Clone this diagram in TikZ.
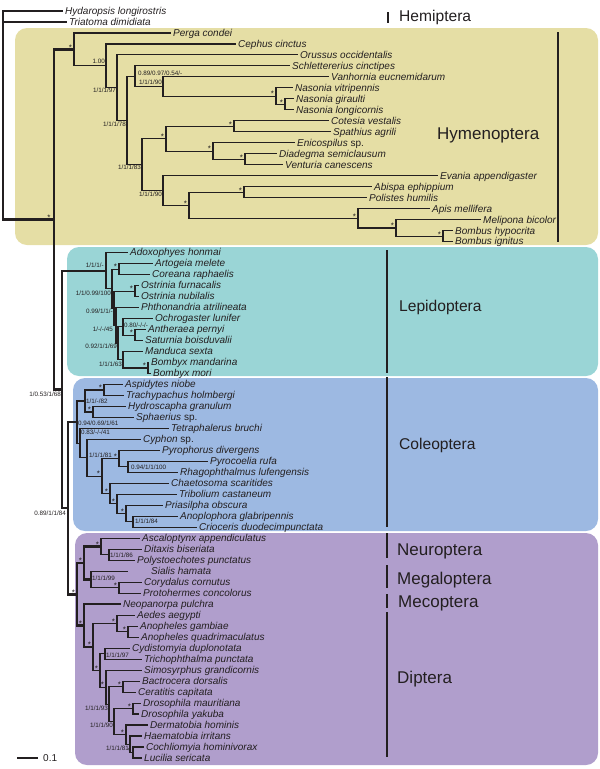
\documentclass[tikz,border=0pt]{standalone}
\usepackage{fontspec}
\setmainfont{Liberation Sans}
\definecolor{lc}{RGB}{35,31,32}
\definecolor{hymc}{RGB}{229,222,165}
\definecolor{lepc}{RGB}{154,213,214}
\definecolor{colc}{RGB}{157,185,226}
\definecolor{purc}{RGB}{176,158,204}
\newcommand\mytip[4]{\coordinate (#1) at ({#2-2},{11+10.985*#3});
  \node[taxon] (#1-l) at ([xshift=2pt,yshift=-3.3pt]#1) {#4};}
\newcommand\mystar[1]{\node[supstar] (st-#1) at ([xshift=-3.5pt,yshift=-0.8pt]#1) {*};}
\newcommand\supE[4]{\node[sup,anchor=base east] (#1) at (#2,{#3+2.3}) {#4};}
\newcommand\supW[4]{\node[sup,anchor=base west] (#1) at (#2,{#3+2.3}) {#4};}
\tikzset{
  thn/.style={draw=lc, line width=1.1pt},
  thk/.style={draw=lc, line width=2.4pt},
  taxon/.style={anchor=base west, inner sep=0pt, text=lc, font=\fontsize{10}{12}\selectfont\itshape},
  sup/.style={inner sep=0pt, text=lc, font=\fontsize{6.3}{7}\selectfont},
  supstar/.style={anchor=base, inner sep=0pt, text=lc, font=\fontsize{8}{9}\selectfont},
  clade/.style={anchor=base west, inner sep=0pt, text=lc, font=\fontsize{17}{20}\selectfont},
  cladesm/.style={anchor=base west, inner sep=0pt, text=lc, font=\fontsize{15.6}{18}\selectfont},
  cladebar/.style={draw=lc, line width=2pt},
  cladebox/.style={rounded corners=12pt},
}
\begin{document}
\begin{tikzpicture}[x=1pt,y=-1pt]
\useasboundingbox (0,0) rectangle (600,769);
% background boxes
\fill[hymc, cladebox] (15,28) rectangle (598,245);
\fill[lepc, cladebox] (67,247) rectangle (598,376);
\fill[colc, cladebox] (73,378) rectangle (598,531);
\fill[purc, cladebox] (75,533) rectangle (598,765);

% tips
\mytip{hyd}{65}{0}{Hydaropsis longirostris}
\mytip{tri}{69}{1}{Triatoma dimidiata}
\mytip{per}{173}{2}{Perga condei}
\mytip{cep}{238}{3}{Cephus cinctus}
\mytip{oru}{300}{4}{Orussus occidentalis}
\mytip{sch}{292}{5}{Schlettererius cinctipes}
\mytip{van}{331}{6}{Vanhornia eucnemidarum}
\mytip{nvi}{295}{7}{Nasonia vitripennis}
\mytip{ngi}{296}{8}{Nasonia giraulti}
\mytip{nlo}{296}{9}{Nasonia longicornis}
\mytip{cot}{331}{10}{Cotesia vestalis}
\mytip{spa}{333}{11}{Spathius agrili}
\mytip{eni}{297}{12}{Enicospilus \upshape sp.}
\mytip{dia}{279}{13}{Diadegma semiclausum}
\mytip{ven}{285}{14}{Venturia canescens}
\mytip{eva}{440}{15}{Evania appendigaster}
\mytip{abi}{374}{16}{Abispa ephippium}
\mytip{pol}{369}{17}{Polistes humilis}
\mytip{api}{432}{18}{Apis mellifera}
\mytip{mel}{483}{19}{Melipona bicolor}
\mytip{bhy}{455}{20}{Bombus hypocrita}
\mytip{big}{455}{21}{Bombus ignitus}
\mytip{ado}{130}{22}{Adoxophyes honmai}
\mytip{art}{155}{23}{Artogeia melete}
\mytip{cor}{152}{24}{Coreana raphaelis}
\mytip{ofu}{141}{25}{Ostrinia furnacalis}
\mytip{onu}{141}{26}{Ostrinia nubilalis}
\mytip{pht}{141}{27}{Phthonandria atrilineata}
\mytip{och}{155}{28}{Ochrogaster lunifer}
\mytip{ant}{148}{29}{Antheraea pernyi}
\mytip{sat}{145}{30}{Saturnia boisduvalii}
\mytip{man}{145}{31}{Manduca sexta}
\mytip{bma}{151}{32}{Bombyx mandarina}
\mytip{bmo}{153}{33}{Bombyx mori}
\mytip{asp}{125}{34}{Aspidytes niobe}
\mytip{tra}{126}{35}{Trachypachus holmbergi}
\mytip{hyr}{128}{36}{Hydroscapha granulum}
\mytip{sph}{136}{37}{Sphaerius \upshape sp.}
\mytip{tet}{171}{38}{Tetraphalerus bruchi}
\mytip{cyp}{143}{39}{Cyphon \upshape sp.}
\mytip{pyr}{162}{40}{Pyrophorus divergens}
\mytip{pyc}{210}{41}{Pyrocoelia rufa}
\mytip{rha}{180}{42}{Rhagophthalmus lufengensis}
\mytip{cha}{171}{43}{Chaetosoma scaritides}
\mytip{trb}{179}{44}{Tribolium castaneum}
\mytip{pri}{165}{45}{Priasilpha obscura}
\mytip{ano}{180}{46}{Anoplophora glabripennis}
\mytip{cri}{199}{47}{Crioceris duodecimpunctata}
\mytip{asc}{142}{48}{Ascaloptynx appendiculatus}
\mytip{dit}{144}{49}{Ditaxis biseriata}
\mytip{pst}{137}{50}{Polystoechotes punctatus}
\coordinate (sia) at (128,{11+10.985*51});
\node[taxon] (sia-l) at ([xshift=23pt,yshift=-3.3pt]sia) {Sialis hamata};
\mytip{cry}{144}{52}{Corydalus cornutus}
\mytip{pro}{143}{53}{Protohermes concolorus}
\mytip{neo}{123}{54}{Neopanorpa pulchra}
\mytip{aed}{137}{55}{Aedes aegypti}
\mytip{agm}{140}{56}{Anopheles gambiae}
\mytip{aqu}{141}{57}{Anopheles quadrimaculatus}
\mytip{cyd}{132}{58}{Cydistomyia duplonotata}
\mytip{trc}{144}{59}{Trichophthalma punctata}
\mytip{sim}{144}{60}{Simosyrphus grandicornis}
\mytip{bac}{142}{61}{Bactrocera dorsalis}
\mytip{cer}{138}{62}{Ceratitis capitata}
\mytip{dma}{143}{63}{Drosophila mauritiana}
\mytip{dya}{141}{64}{Drosophila yakuba}
\mytip{der}{150}{65}{Dermatobia hominis}
\mytip{hae}{144}{66}{Haematobia irritans}
\mytip{coc}{146}{67}{Cochliomyia hominivorax}
\mytip{luc}{144}{68}{Lucilia sericata}

% internal nodes
\coordinate (R) at (3,115);
\coordinate (Holo) at (54,219.4);
\coordinate (H0) at (74,49.4);
\coordinate (H1) at (106,65.8);
\coordinate (H2) at (117,87.65);
\coordinate (H3) at (127,120.4);
\coordinate (H4) at (135,76.2);
\coordinate (H5) at (163,86.5);
\coordinate (N) at (276,96.15);
\coordinate (N2) at (285,104.4);
\coordinate (H6) at (142,164.6);
\coordinate (I0) at (166,138.7);
\coordinate (Br) at (234,126.35);
\coordinate (Ich) at (213,151.05);
\coordinate (DV) at (245,159.3);
\coordinate (H7) at (163,190.5);
\coordinate (H8) at (189,205.25);
\coordinate (Ves) at (244,192.2);
\coordinate (A1) at (358,218.3);
\coordinate (A2) at (396,227.95);
\coordinate (Bom) at (443,236.2);
\coordinate (Z) at (62,389.45);
\coordinate (L0) at (106,270.7);
\coordinate (L1) at (112,288.7);
\coordinate (L2) at (119,269.15);
\coordinate (L3) at (114,308.3);
\coordinate (Ost) at (135,291.1);
\coordinate (L4) at (116,325.45);
\coordinate (L5) at (118,343.3);
\coordinate (SG) at (123,326.85);
\coordinate (AS) at (135,335.1);
\coordinate (BG) at (123,359.75);
\coordinate (Bomb) at (148,368);
\coordinate (Y) at (68,508.2);
\coordinate (C0) at (77,422.05);
\coordinate (C1) at (85,401);
\coordinate (Adeph) at (104,390);
\coordinate (Myxo) at (93,411.95);
\coordinate (P0) at (80,443.1);
\coordinate (P1) at (87,457.8);
\coordinate (P2) at (102,476.15);
\coordinate (E0) at (119,458.65);
\coordinate (E1) at (128,466.9);
\coordinate (P3) at (110,493.65);
\coordinate (P4) at (117,503.9);
\coordinate (P5) at (126,513.55);
\coordinate (P6) at (133,521.8);
\coordinate (X) at (77,594.3);
\coordinate (NP) at (84,563);
\coordinate (Neur) at (101,546.5);
\coordinate (DP) at (109,554.75);
\coordinate (Meg) at (91,579.45);
\coordinate (CP) at (119,587.7);
\coordinate (MD) at (84,625.55);
\coordinate (D) at (93,646.9);
\coordinate (Cul) at (117,623.4);
\coordinate (Ano) at (128,631.65);
\coordinate (B0) at (100,670.35);
\coordinate (CT) at (105,653.6);
\coordinate (Cyc) at (106,687.1);
\coordinate (Sch) at (109,704.1);
\coordinate (Teph) at (123,686.6);
\coordinate (DC) at (114,721.55);
\coordinate (Dro) at (133,708.5);
\coordinate (Cal) at (126,734.6);
\coordinate (MC) at (130,744.25);
\coordinate (CL) at (133,752.5);

% backbone (thick)
\draw[thk] (R) |- (hyd) (R) |- (tri) (R) |- (Holo);
\draw[thk] (Holo) |- (H0) (Holo) |- (Z);
\draw[thk] (Z) |- (L0) (Z) |- (Y);
\draw[thk] (Y) |- (C0) (Y) |- (X);
\draw[thk] (X) |- (NP) (X) |- (MD);
\draw[thk] (NP) |- (Neur) (NP) |- (Meg);
\draw[thk] (MD) |- (neo) (MD) |- (D);

% Hymenoptera
\draw[thn] (H0) |- (per) (H0) |- (H1);
\draw[thn] (H1) |- (cep) (H1) |- (H2);
\draw[thn] (H2) |- (oru) (H2) |- (H3);
\draw[thn] (H3) |- (H4) (H3) |- (H6);
\draw[thn] (H4) |- (sch) (H4) |- (H5);
\draw[thn] (H5) |- (van) (H5) |- (N);
\draw[thn] (N) |- (nvi) (N) |- (N2);
\draw[thn] (N2) |- (ngi) (N2) |- (nlo);
\draw[thn] (H6) |- (I0) (H6) |- (H7);
\draw[thn] (I0) |- (Br) (I0) |- (Ich);
\draw[thn] (Br) |- (cot) (Br) |- (spa);
\draw[thn] (Ich) |- (eni) (Ich) |- (DV);
\draw[thn] (DV) |- (dia) (DV) |- (ven);
\draw[thn] (H7) |- (eva) (H7) |- (H8);
\draw[thn] (H8) |- (Ves) (H8) |- (A1);
\draw[thn] (Ves) |- (abi) (Ves) |- (pol);
\draw[thn] (A1) |- (api) (A1) |- (A2);
\draw[thn] (A2) |- (mel) (A2) |- (Bom);
\draw[thn] (Bom) |- (bhy) (Bom) |- (big);
% Lepidoptera
\draw[thn] (L0) |- (ado) (L0) |- (L1);
\draw[thn] (L1) |- (L2) (L1) |- (L3);
\draw[thn] (L2) |- (art) (L2) |- (cor);
\draw[thn] (L3) |- (Ost) (L3) |- (L4);
\draw[thn] (Ost) |- (ofu) (Ost) |- (onu);
\draw[thn] (L4) |- (pht) (L4) |- (L5);
\draw[thn] (L5) |- (SG) (L5) |- (BG);
\draw[thn] (SG) |- (och) (SG) |- (AS);
\draw[thn] (AS) |- (ant) (AS) |- (sat);
\draw[thn] (BG) |- (man) (BG) |- (Bomb);
\draw[thn] (Bomb) |- (bma) (Bomb) |- (bmo);
% Coleoptera
\draw[thn] (C0) |- (C1) (C0) |- (P0);
\draw[thn] (C1) |- (Adeph) (C1) |- (Myxo);
\draw[thn] (Adeph) |- (asp) (Adeph) |- (tra);
\draw[thn] (Myxo) |- (hyr) (Myxo) |- (sph);
\draw[thn] (P0) |- (tet) (P0) |- (P1);
\draw[thn] (P1) |- (cyp) (P1) |- (P2);
\draw[thn] (P2) |- (E0) (P2) |- (P3);
\draw[thn] (E0) |- (pyr) (E0) |- (E1);
\draw[thn] (E1) |- (pyc) (E1) |- (rha);
\draw[thn] (P3) |- (cha) (P3) |- (P4);
\draw[thn] (P4) |- (trb) (P4) |- (P5);
\draw[thn] (P5) |- (pri) (P5) |- (P6);
\draw[thn] (P6) |- (ano) (P6) |- (cri);
% Neuropterida
\draw[thn] (Neur) |- (asc) (Neur) |- (DP);
\draw[thn] (DP) |- (dit) (DP) |- (pst);
\draw[thn] (Meg) |- (sia) (Meg) |- (CP);
\draw[thn] (CP) |- (cry) (CP) |- (pro);
% Diptera
\draw[thn] (D) |- (Cul) (D) |- (B0);
\draw[thn] (Cul) |- (aed) (Cul) |- (Ano);
\draw[thn] (Ano) |- (agm) (Ano) |- (aqu);
\draw[thn] (B0) |- (CT) (B0) |- (Cyc);
\draw[thn] (CT) |- (cyd) (CT) |- (trc);
\draw[thn] (Cyc) |- (sim) (Cyc) |- (Sch);
\draw[thn] (Sch) |- (Teph) (Sch) |- (DC);
\draw[thn] (Teph) |- (bac) (Teph) |- (cer);
\draw[thn] (DC) |- (Dro) (DC) |- (Cal);
\draw[thn] (Dro) |- (dma) (Dro) |- (dya);
\draw[thn] (Cal) |- (der) (Cal) |- (MC);
\draw[thn] (MC) |- (hae) (MC) |- (CL);
\draw[thn] (CL) |- (coc) (CL) |- (luc);

% stars
\node[supstar] (st-Holo) at ([xshift=-5pt,yshift=-0.8pt]Holo) {*};
\mystar{H0}\mystar{N}\mystar{N2}\mystar{Br}\mystar{I0}\mystar{Ich}\mystar{DV}
\mystar{Ves}\mystar{H8}\mystar{A1}\mystar{A2}\mystar{Bom}
\mystar{L2}\mystar{Ost}\mystar{AS}\mystar{Bomb}
\mystar{Adeph}\mystar{Myxo}\mystar{E0}\mystar{P2}\mystar{P3}\mystar{P4}\mystar{P5}
\mystar{Neur}\mystar{NP}\mystar{CP}\mystar{X}\mystar{MD}\mystar{Cul}\mystar{Ano}\mystar{D}
\mystar{B0}\mystar{Cyc}\mystar{Teph}\mystar{Dro}\mystar{Cal}\mystar{CL}

% support values
\supE{s1}{105}{61}{1.00}
\supE{s2}{116}{90}{1/1/1/97}
\supE{s3}{126}{124}{1/1/1/78}
\supE{s4}{162}{82}{1/1/1/90}
\supE{s5}{141}{167}{1/1/1/83}
\supE{s6}{162}{194}{1/1/1/90}
\supE{s7}{104}{265}{1/1/1/-}
\supE{s8}{111}{293}{1/1/0.99/100}
\supE{s9}{113}{311}{0.99/1/1/-}
\supE{s10}{113}{329}{1/-/-/45}
\supE{s11}{117}{346}{0.92/1/1/69}
\supE{s12}{122}{364}{1/1/1/63}
\supE{s13}{61}{394}{1/0.53/1/68}
\supE{s14}{66}{513}{0.89/1/1/84}
\supE{s15}{108}{708}{1/1/1/93}
\supE{s16}{113}{725}{1/1/1/90}
\supE{s17}{129}{748}{1/1/1/81}
\supW{s18}{138}{73}{0.89/0.97/0.54/-}
\supW{s19}{124}{325}{0.80/-/-/-}
\supW{s20}{86}{401}{1/1/-/82}
\supW{s21}{78}{423}{0.94/0.69/1/61}
\supW{s22}{81}{432}{0.83/-/-/41}
\supW{s23}{89}{455}{1/1/1/81}
\supW{s24}{131}{467}{0.94/1/1/100}
\supW{s25}{135}{521}{1/1/1/84}
\supW{s26}{110}{555}{1/1/1/86}
\supW{s27}{92}{578}{1/1/1/99}
\supW{s28}{106}{655}{1/1/1/97}

% clade bars and names
\coordinate (hemA) at (388,12); \coordinate (hemB) at (388,23);
\coordinate (hymA) at (558,32); \coordinate (hymB) at (558,242);
\coordinate (lepA) at (387,250); \coordinate (lepB) at (387,373);
\coordinate (colA) at (387,377); \coordinate (colB) at (387,527);
\coordinate (neuA) at (387,533); \coordinate (neuB) at (387,558);
\coordinate (megA) at (387,565); \coordinate (megB) at (387,588);
\coordinate (mecA) at (387,594); \coordinate (mecB) at (387,608);
\coordinate (dipA) at (387,612); \coordinate (dipB) at (387,757);
\draw[cladebar] (hemA) -- (hemB);
\draw[cladebar] (hymA) -- (hymB);
\draw[cladebar] (lepA) -- (lepB);
\draw[cladebar] (colA) -- (colB);
\draw[cladebar] (neuA) -- (neuB);
\draw[cladebar] (megA) -- (megB);
\draw[cladebar] (mecA) -- (mecB);
\draw[cladebar] (dipA) -- (dipB);
\node[cladesm] (hemT) at (399,21.6) {Hemiptera};
\node[clade] (hymT) at (437,139.1) {Hymenoptera};
\node[cladesm] (lepT) at (399,311.6) {Lepidoptera};
\node[cladesm] (colT) at (399,449.6) {Coleoptera};
\node[clade] (neuT) at (397,555.1) {Neuroptera};
\node[clade] (megT) at (397,584.1) {Megaloptera};
\node[clade] (mecT) at (398,607.1) {Mecoptera};
\node[clade] (dipT) at (397,683.1) {Diptera};

% scale bar
\coordinate (sb1) at (17,758); \coordinate (sb2) at (38,758);
\draw[thn] (sb1) -- (sb2);
\node[anchor=base west, inner sep=0pt, text=lc, font=\fontsize{10}{12}\selectfont] (sbl) at (43,761.6) {0.1};
\end{tikzpicture}
\end{document}
